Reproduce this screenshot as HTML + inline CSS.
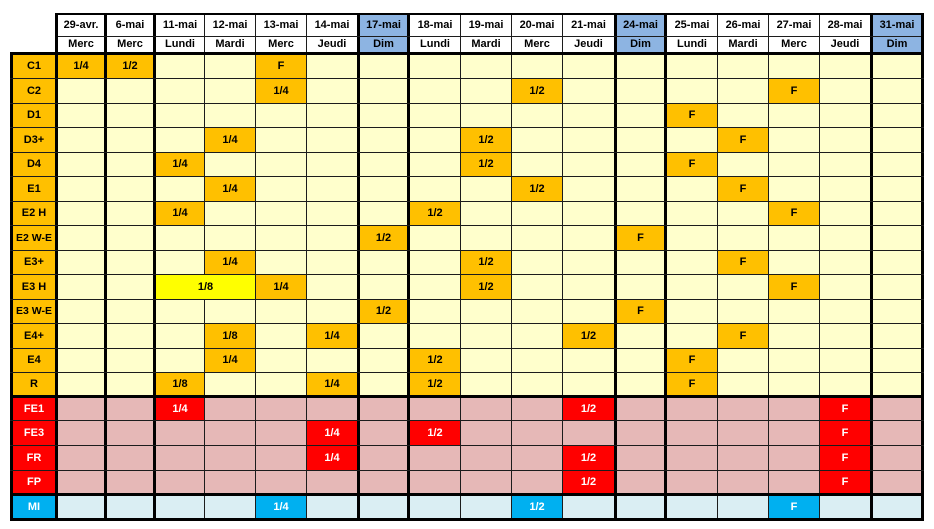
<!DOCTYPE html>
<html>
<head>
<meta charset="utf-8">
<style>
html,body{margin:0;padding:0;background:#fff;}
body{width:934px;height:529px;position:relative;overflow:hidden;font-family:"Liberation Sans",Arial,sans-serif;font-weight:bold;font-size:11px;color:#000;}
div{position:absolute;box-sizing:border-box;}
.t{text-align:center;white-space:nowrap;}
.bg{}
.lv{background:#000;}
.lh{background:#000;}
.thin{background:#1c1c1c;}
/* columns */
.c0{left:58px;width:46px}.c1{left:107px;width:46px}.c2{left:156px;width:48px}.c3{left:205px;width:50px}
.c4{left:256px;width:50px}.c5{left:307px;width:50px}.c6{left:360px;width:47px}.c7{left:410px;width:50px}
.c8{left:461px;width:50px}.c9{left:512px;width:50px}.c10{left:563px;width:51px}.c11{left:617px;width:47px}
.c12{left:667px;width:50px}.c13{left:718px;width:50px}.c14{left:769px;width:50px}.c15{left:820px;width:50px}
.c16{left:873px;width:48px}
.lab{left:13px;width:42px}
/* rows */
.h1{top:15px;height:21px;line-height:21px}.h2{top:37px;height:15px;line-height:15px}
.r0{top:55px;height:23px;line-height:23px}.r1{top:79px;height:24px;line-height:24px}
.r2{top:104px;height:23px;line-height:23px}.r3{top:128px;height:24px;line-height:24px}
.r4{top:153px;height:23px;line-height:23px}.r5{top:177px;height:24px;line-height:24px}
.r6{top:202px;height:23px;line-height:23px}.r7{top:226px;height:24px;line-height:24px}
.r8{top:251px;height:23px;line-height:23px}.r9{top:275px;height:24px;line-height:24px}
.r10{top:300px;height:23px;line-height:23px}.r11{top:324px;height:24px;line-height:24px}
.r12{top:349px;height:23px;line-height:23px}.r13{top:373px;height:22px;line-height:22px}
.r14{top:398px;height:22px;line-height:22px}.r15{top:421px;height:24px;line-height:24px}
.r16{top:446px;height:24px;line-height:24px}.r17{top:471px;height:22px;line-height:22px}
.r18{top:496px;height:22px;line-height:22px}
.o{background:#FFC000;color:#000}
.y{background:#FFFF00;color:#000}
.rd{background:#FF0000;color:#fff}
.cy{background:#00B0F0;color:#fff}
.bl{background:#8DB4E2}
</style>
</head>
<body>
<!-- zone backgrounds -->
<div style="left:55px;top:13px;width:869px;height:42px;background:#fff"></div>
<div class="bl c6" style="top:15px;height:37px"></div>
<div class="bl c11" style="top:15px;height:37px"></div>
<div class="bl c16" style="top:15px;height:37px"></div>
<div style="left:58px;top:55px;width:863px;height:340px;background:#FFFFCC"></div>
<div style="left:58px;top:398px;width:863px;height:95px;background:#E6B8B7"></div>
<div style="left:58px;top:496px;width:863px;height:22px;background:#DAEEF3"></div>
<div style="left:13px;top:55px;width:42px;height:340px;background:#FFC000"></div>
<div style="left:13px;top:398px;width:42px;height:95px;background:#FF0000"></div>
<div style="left:13px;top:496px;width:42px;height:22px;background:#00B0F0"></div>

<!-- header text -->
<div class="t c0 h1">29-avr.</div><div class="t c0 h2">Merc</div>
<div class="t c1 h1">6-mai</div><div class="t c1 h2">Merc</div>
<div class="t c2 h1">11-mai</div><div class="t c2 h2">Lundi</div>
<div class="t c3 h1">12-mai</div><div class="t c3 h2">Mardi</div>
<div class="t c4 h1">13-mai</div><div class="t c4 h2">Merc</div>
<div class="t c5 h1">14-mai</div><div class="t c5 h2">Jeudi</div>
<div class="t c6 h1">17-mai</div><div class="t c6 h2">Dim</div>
<div class="t c7 h1">18-mai</div><div class="t c7 h2">Lundi</div>
<div class="t c8 h1">19-mai</div><div class="t c8 h2">Mardi</div>
<div class="t c9 h1">20-mai</div><div class="t c9 h2">Merc</div>
<div class="t c10 h1">21-mai</div><div class="t c10 h2">Jeudi</div>
<div class="t c11 h1">24-mai</div><div class="t c11 h2">Dim</div>
<div class="t c12 h1">25-mai</div><div class="t c12 h2">Lundi</div>
<div class="t c13 h1">26-mai</div><div class="t c13 h2">Mardi</div>
<div class="t c14 h1">27-mai</div><div class="t c14 h2">Merc</div>
<div class="t c15 h1">28-mai</div><div class="t c15 h2">Jeudi</div>
<div class="t c16 h1">31-mai</div><div class="t c16 h2">Dim</div>

<!-- labels -->
<div class="t lab r0">C1</div>
<div class="t lab r1">C2</div>
<div class="t lab r2">D1</div>
<div class="t lab r3">D3+</div>
<div class="t lab r4">D4</div>
<div class="t lab r5">E1</div>
<div class="t lab r6">E2 H</div>
<div class="t lab r7" style="font-size:10.5px">E2 W-E</div>
<div class="t lab r8">E3+</div>
<div class="t lab r9">E3 H</div>
<div class="t lab r10" style="font-size:10.5px">E3 W-E</div>
<div class="t lab r11">E4+</div>
<div class="t lab r12">E4</div>
<div class="t lab r13">R</div>
<div class="t lab r14" style="color:#fff">FE1</div>
<div class="t lab r15" style="color:#fff">FE3</div>
<div class="t lab r16" style="color:#fff">FR</div>
<div class="t lab r17" style="color:#fff">FP</div>
<div class="t lab r18" style="color:#fff">MI</div>

<!-- highlighted cells -->
<div class="t o r0 c0">1/4</div><div class="t o r0 c1">1/2</div><div class="t o r0 c4">F</div>
<div class="t o r1 c4">1/4</div><div class="t o r1 c9">1/2</div><div class="t o r1 c14">F</div>
<div class="t o r2 c12">F</div>
<div class="t o r3 c3">1/4</div><div class="t o r3 c8">1/2</div><div class="t o r3 c13">F</div>
<div class="t o r4 c2">1/4</div><div class="t o r4 c8">1/2</div><div class="t o r4 c12">F</div>
<div class="t o r5 c3">1/4</div><div class="t o r5 c9">1/2</div><div class="t o r5 c13">F</div>
<div class="t o r6 c2">1/4</div><div class="t o r6 c7">1/2</div><div class="t o r6 c14">F</div>
<div class="t o r7 c6">1/2</div><div class="t o r7 c11">F</div>
<div class="t o r8 c3">1/4</div><div class="t o r8 c8">1/2</div><div class="t o r8 c13">F</div>
<div class="t o r9 c4">1/4</div><div class="t o r9 c8">1/2</div><div class="t o r9 c14">F</div>
<div class="t o r10 c6">1/2</div><div class="t o r10 c11">F</div>
<div class="t o r11 c3">1/8</div><div class="t o r11 c5">1/4</div><div class="t o r11 c10">1/2</div><div class="t o r11 c13">F</div>
<div class="t o r12 c3">1/4</div><div class="t o r12 c7">1/2</div><div class="t o r12 c12">F</div>
<div class="t o r13 c2">1/8</div><div class="t o r13 c5">1/4</div><div class="t o r13 c7">1/2</div><div class="t o r13 c12">F</div>
<div class="t rd r14 c2">1/4</div><div class="t rd r14 c10">1/2</div><div class="t rd r14 c15">F</div>
<div class="t rd r15 c5">1/4</div><div class="t rd r15 c7">1/2</div><div class="t rd r15 c15">F</div>
<div class="t rd r16 c5">1/4</div><div class="t rd r16 c10">1/2</div><div class="t rd r16 c15">F</div>
<div class="t rd r17 c10">1/2</div><div class="t rd r17 c15">F</div>
<div class="t cy r18 c4">1/4</div><div class="t cy r18 c9">1/2</div><div class="t cy r18 c14">F</div>

<!-- vertical lines -->
<div class="lv" style="left:10px;top:52px;width:3px;height:469px"></div>
<div class="lv" style="left:55px;top:13px;width:3px;height:508px"></div>
<div class="lv" style="left:104px;top:13px;width:3px;height:508px"></div>
<div class="lv" style="left:153px;top:13px;width:3px;height:508px"></div>
<div class="thin" style="left:204px;top:13px;width:1px;height:508px"></div>
<div class="thin" style="left:255px;top:13px;width:1px;height:508px"></div>
<div class="thin" style="left:306px;top:13px;width:1px;height:508px"></div>
<div class="lv" style="left:357px;top:13px;width:3px;height:508px"></div>
<div class="lv" style="left:407px;top:13px;width:3px;height:508px"></div>
<div class="thin" style="left:460px;top:13px;width:1px;height:508px"></div>
<div class="thin" style="left:511px;top:13px;width:1px;height:508px"></div>
<div class="thin" style="left:562px;top:13px;width:1px;height:508px"></div>
<div class="lv" style="left:614px;top:13px;width:3px;height:508px"></div>
<div class="lv" style="left:664px;top:13px;width:3px;height:508px"></div>
<div class="thin" style="left:717px;top:13px;width:1px;height:508px"></div>
<div class="thin" style="left:768px;top:13px;width:1px;height:508px"></div>
<div class="thin" style="left:819px;top:13px;width:1px;height:508px"></div>
<div class="lv" style="left:870px;top:13px;width:3px;height:508px"></div>
<div class="lv" style="left:921px;top:13px;width:3px;height:508px"></div>

<!-- horizontal lines -->
<div class="lh" style="left:55px;top:13px;width:869px;height:2px"></div>
<div class="thin" style="left:58px;top:36px;width:863px;height:1px"></div>
<div class="lh" style="left:10px;top:52px;width:914px;height:3px"></div>
<div class="thin" style="left:10px;top:78px;width:914px;height:1px"></div>
<div class="thin" style="left:10px;top:103px;width:914px;height:1px"></div>
<div class="thin" style="left:10px;top:127px;width:914px;height:1px"></div>
<div class="thin" style="left:10px;top:152px;width:914px;height:1px"></div>
<div class="thin" style="left:10px;top:176px;width:914px;height:1px"></div>
<div class="thin" style="left:10px;top:201px;width:914px;height:1px"></div>
<div class="thin" style="left:10px;top:225px;width:914px;height:1px"></div>
<div class="thin" style="left:10px;top:250px;width:914px;height:1px"></div>
<div class="thin" style="left:10px;top:274px;width:914px;height:1px"></div>
<div class="thin" style="left:10px;top:299px;width:914px;height:1px"></div>
<div class="thin" style="left:10px;top:323px;width:914px;height:1px"></div>
<div class="thin" style="left:10px;top:348px;width:914px;height:1px"></div>
<div class="thin" style="left:10px;top:372px;width:914px;height:1px"></div>
<div class="lh" style="left:10px;top:395px;width:914px;height:3px"></div>
<div class="thin" style="left:10px;top:420px;width:914px;height:1px"></div>
<div class="thin" style="left:10px;top:445px;width:914px;height:1px"></div>
<div class="thin" style="left:10px;top:470px;width:914px;height:1px"></div>
<div class="lh" style="left:10px;top:493px;width:914px;height:3px"></div>
<div class="lh" style="left:10px;top:518px;width:914px;height:3px"></div>

<!-- merged cell E3 H (11-mai + 12-mai) -->
<div class="t y r9" style="left:156px;width:99px">1/8</div>
</body>
</html>
